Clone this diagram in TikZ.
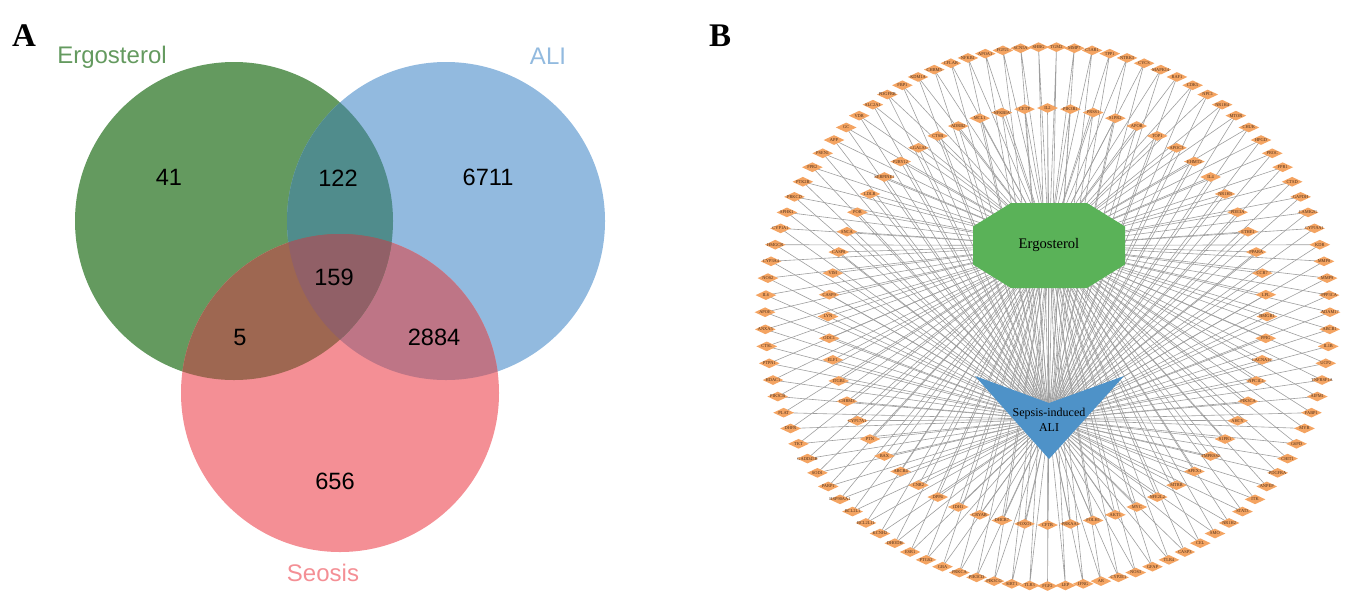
\documentclass[tikz,border=0pt]{standalone}
\usepackage{fontspec}
\setmainfont{Liberation Serif}
\newfontfamily\vennfont{Liberation Sans}
\usetikzlibrary{shapes.geometric}
\pgfdeclarelayer{edgelayer}
\pgfsetlayers{edgelayer,main}

\definecolor{vgreen}{RGB}{100,154,95}
\definecolor{vblue}{RGB}{146,186,223}
\definecolor{vpink}{RGB}{244,143,149}
\definecolor{vgb}{RGB}{80,140,140}
\definecolor{vgp}{RGB}{158,103,81}
\definecolor{vbp}{RGB}{190,117,134}
\definecolor{vgbp}{RGB}{145,96,103}
\definecolor{genefill}{RGB}{244,164,98}
\definecolor{genetext}{RGB}{75,45,25}
\definecolor{ergofill}{RGB}{90,178,88}
\definecolor{alifill}{RGB}{78,146,200}

\tikzset{
  panel/.style={font=\bfseries\fontsize{16.5}{18}\selectfont, inner sep=0pt},
  setname/.style={font=\vennfont\fontsize{12}{13}\selectfont, inner sep=0pt},
  count/.style={font=\vennfont\fontsize{11.8}{13}\selectfont, inner sep=0pt},
  genelabel/.style={font=\fontsize{2.2}{2.4}\selectfont, text=genetext, inner sep=0pt},
  gene/.style={diamond, fill=genefill, minimum width=10.5pt, minimum height=5pt, inner sep=0pt,
    label={[genelabel]center:#1}},
  hub/.style={inner sep=0pt, align=center},
  link/.style={draw=black!38, line width=0.3pt}
}

\begin{document}
\begin{tikzpicture}[x=0.5pt,y=-0.5pt]
\useasboundingbox (0,0) rectangle (1358,606);

% A: venn
\fill[vgreen] (234,221) circle (159);
\fill[vblue] (446,221) circle (159);
\fill[vpink] (340,393) circle (159);
\begin{scope}
  \clip (446,221) circle (159);
  \fill[vbp] (340,393) circle (159);
\end{scope}
\begin{scope}
  \clip (234,221) circle (159);
  \fill[vgb] (446,221) circle (159);
  \fill[vgp] (340,393) circle (159);
  \clip (446,221) circle (159);
  \fill[vgbp] (340,393) circle (159);
\end{scope}

\node[panel] (pa) at (24,36) {A};
\node[setname, text=vgreen] (sergo) at (112,57) {Ergosterol};
\node[setname, text=vblue] (sali) at (548,56) {ALI};
\node[setname, text=vpink] (ssep) at (323,573) {Seosis};

\node[count] (c41) at (169,177) {41};
\node[count] (c122) at (338,178) {122};
\node[count] (c6711) at (488,177) {6711};
\node[count] (c159) at (334,277) {159};
\node[count] (c5) at (240,337) {5};
\node[count] (c2884) at (434,337) {2884};
\node[count] (c656) at (335,481) {656};

% B: network
\node[panel] (pb) at (720,36) {B};

\foreach \g [count=\k] in {IL6,NOS2,CYP3A4,HMGCR,CYP1A1,SPHK1,PRKCD,PTK2B,FPR2,PSEN1,
  APP,GC,VDR,SLC2A1,PDGFRB,FBP1,KDM1A,CHRM5,CFLAR,NFKB1,
  APOA1,FGF21,SCN5A,SHBG,TGM2,MMP7,C5AR1,TPP1,NTRK3,CYCS,
  MAPK14,RAF1,CDK5,NPC1,NR1H4,MTOR,CHUK,HPGD,PROC,FPR1,
  CTSD,GAPDH,CAMK2G,CYP19A1,KDR,MMP8,MMP9,PPP3CA,ADAM17,ABCB1,
  IL1B,UCP2,TNFRSF1A,AIFM1,FABP1,MYB,G6PD,CHIT1,PDGFRA,ANPEP,
  ITK,STAT3,NR1H2,SMO,CEL,CASP3,TLR4,GFAP,NOS3,CYP2E1,
  AR,IFNG,LEP,FGF2,TLR3,SIRT1,PIK3CG,PIK3CD,PRKCA,GBA,
  PTGS2,ESR1,DHODH,KCNH2,BCL2L11,BCL2L1,HSP90AA1,PARP1,SOD1,GADD45B,
  TKT,DHFR,PLAT,PIK3CB,HDAC1,PTPN1,CTSL,ANXA5,APOE}{
  \pgfmathsetmacro\ang{179.0909-3.63636*\k}
  \node[gene=\g] (o\k) at ({1047.5+282.5*cos(\ang)},{316.5-269.5*sin(\ang)}) {};
}

\foreach \g [count=\k] in {LGALS3,CTSB,ADRB2,MCL1,NFKBIA,CETP,IL2,PIK3R1,PRSS1,S1PR2,
  APOB,TOP1,APOC3,EHMT2,IL4,NR1H3,PDE3A,ETHE1,PPARA,CCR7,
  LPL,HMGB1,PPIG,CACNA1C,NPC1L1,PIK3CA,AHCY,S1PR1,TMPRSS2,APEX1,
  MTRR,NFE2L2,MYC,AKT1,FOLH1,PRKAA1,CFTR,FOXO1,DHCR7,CRYAB,
  IDH1,DPP4,CNR2,ABCB4,BAX,PTN,CYP17A1,CHRM3,ITGB1,ELF1,
  ODC1,LYN,CASP9,VIM,CASP8,SNCA,POR,LDLR,SERPINE1,P2RY12}{
  \pgfmathsetmacro\ang{132-6*\k}
  \node[gene=\g] (i\k) at ({1047.5+219.5*cos(\ang)},{316.5-208.5*sin(\ang)}) {};
}

\fill[ergofill] (1011,203) -- (1087,203) -- (1125,226.5) -- (1125,264.5)
  -- (1087,288) -- (1011,288) -- (973,264.5) -- (973,226.5) -- cycle;
\node[hub, font=\fontsize{7.3}{8}\selectfont] (ergo) at (1049,245.5) {Ergosterol};

\fill[alifill] (975,376) -- (1049,403) -- (1124,376) -- (1049,459) -- cycle;
\node[hub, font=\fontsize{6}{7.5}\selectfont] (ali) at (1049,419.5) {Sepsis-induced\\ALI};

\begin{pgfonlayer}{edgelayer}
\foreach \k in {1,...,99}{
  \draw[link] (o\k.center) -- (ergo.center) (o\k.center) -- (ali.center);
}
\foreach \k in {1,...,60}{
  \draw[link] (i\k.center) -- (ergo.center) (i\k.center) -- (ali.center);
}
\end{pgfonlayer}
\end{tikzpicture}
\end{document}
